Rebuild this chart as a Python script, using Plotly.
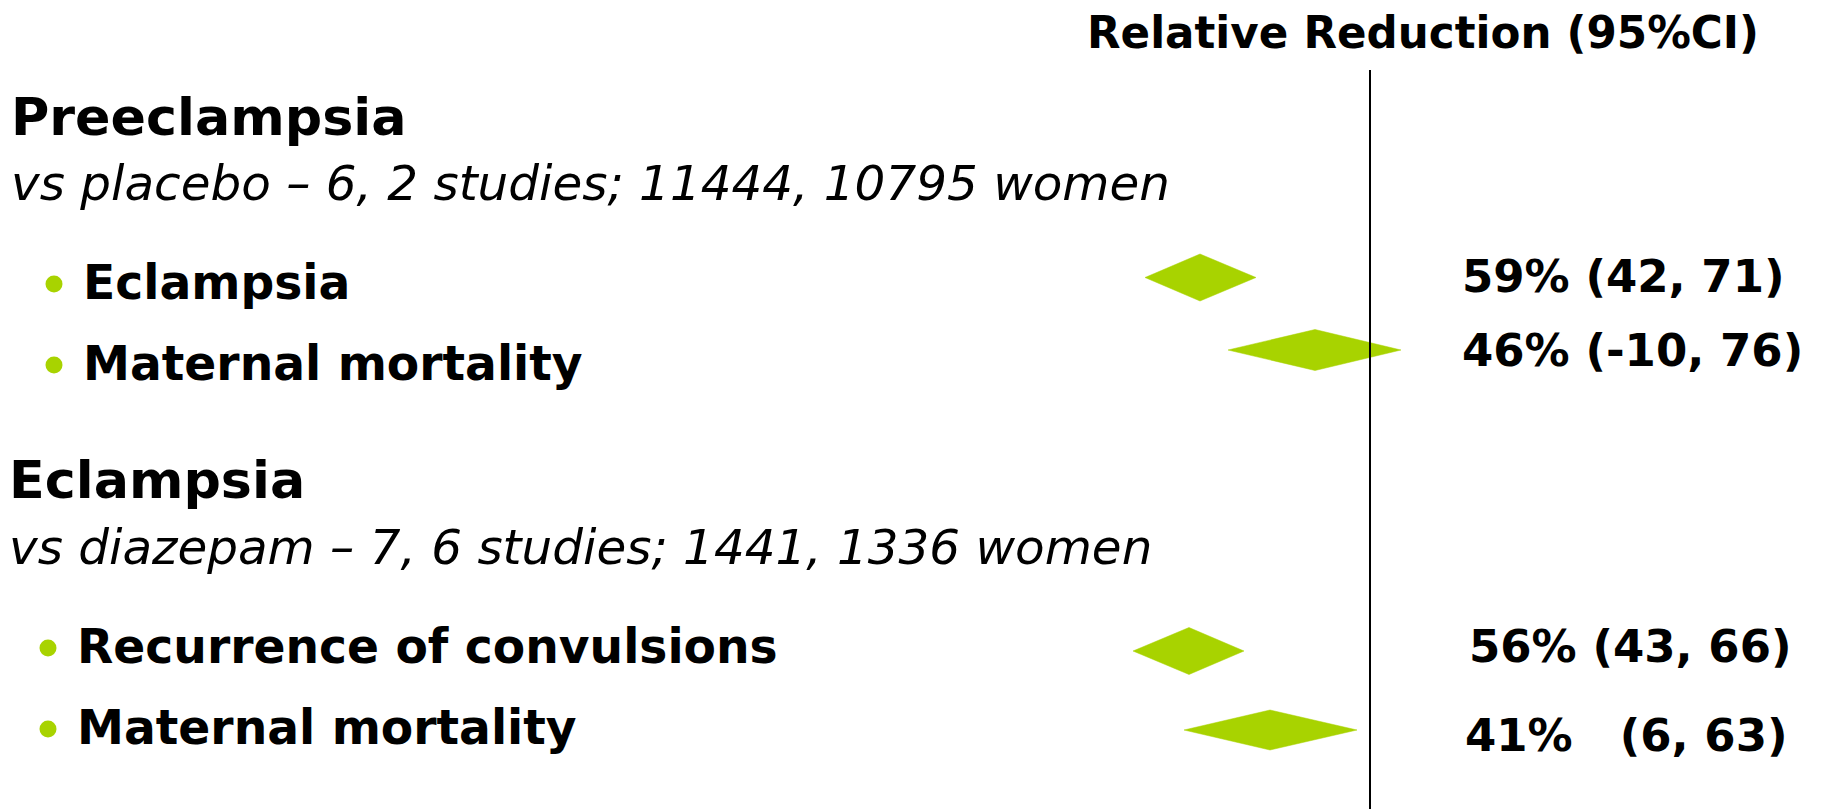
import plotly.graph_objects as go

# ---------------- data ----------------
outcomes = ["Eclampsia", "Maternal mortality", "Recurrence of convulsions", "Maternal mortality"]
reduction_pct = [59, 46, 56, 41]
ci_low = [42, -10, 43, 6]
ci_high = [71, 76, 66, 63]
# diamond vertices read off the schematic forest scale (0 = line of no effect)
diamond_left = [-22.5, -14.2, -23.7, -18.6]
diamond_mid = [-17.0, -5.5, -18.1, -10.0]
diamond_right = [-11.4, 3.1, -12.6, -1.3]

groups = ["Preeclampsia", "Eclampsia"]
group_subtitles = ["vs placebo \u2013 6, 2 studies; 11444, 10795 women",
                   "vs diazepam \u2013 7, 6 studies; 1441, 1336 women"]
group_of_outcome = [0, 0, 1, 1]
header = "Relative Reduction (95%CI)"

# ---------------- layout constants ----------------
W, H = 1824, 809
OFF = 8                      # page body margin of the rendered html
LINE_PX = 1370 - OFF         # line of no effect, figure pixels
GREEN = "#A8D300"
FONT = "DejaVu Sans"


def ax(px):
    """screen pixel -> x axis units"""
    return (px - OFF - LINE_PX) / 10.0


def ay(py):
    """screen pixel -> y axis units"""
    return (py - OFF) / 10.0


row_y = [ay(277.5), ay(350), ay(651), ay(730)]
half_h = [2.35, 2.05, 2.35, 2.0]

fig = go.Figure()

for i in range(len(outcomes)):
    xs = [diamond_left[i], diamond_mid[i], diamond_right[i], diamond_mid[i], diamond_left[i]]
    ys = [row_y[i], row_y[i] - half_h[i], row_y[i], row_y[i] + half_h[i], row_y[i]]
    fig.add_trace(go.Scatter(x=xs, y=ys, mode="lines", fill="toself",
                             fillcolor=GREEN, line=dict(color=GREEN, width=0.5),
                             hoverinfo="skip", showlegend=False))

fig.add_shape(type="line", xref="x", yref="y", x0=0, x1=0, y0=ay(70), y1=H / 10.0,
              line=dict(color="black", width=2))

ann = []


def add_text(text, px, py, size, weight="bold", style="normal", anchor="left", color="black"):
    ann.append(dict(text=text, x=ax(px), y=ay(py), xref="x", yref="y",
                    xanchor=anchor, yanchor="middle", showarrow=False, borderpad=0,
                    font=dict(family=FONT, size=size, color=color, weight=weight, style=style)))


add_text(header, 1086, 33, 43.6)

group_title_y = [116, 479]
group_sub_y = [183, 547]
group_x = [10, 8]
for g in range(len(groups)):
    add_text(groups[g], group_x[g], group_title_y[g], 52.3)
    add_text(group_subtitles[g], group_x[g], group_sub_y[g], 48.4, weight="normal", style="italic")

label_y = [282, 363, 646, 727]
bullet_y = [284, 365, 648, 729]
bullet_x = [54, 48]
text_x = [82, 76]
for i, name in enumerate(outcomes):
    g = group_of_outcome[i]
    add_text(name, text_x[g], label_y[i], 47.2)

fig.add_trace(go.Scatter(
    x=[ax(bullet_x[group_of_outcome[i]]) for i in range(len(outcomes))],
    y=[ay(v) for v in bullet_y], mode="markers",
    marker=dict(color=GREEN, size=17, line=dict(width=0)),
    hoverinfo="skip", showlegend=False))

value_y = [276, 350, 646, 735]
value_x = [1461, 1461, 1468, 1464]
for i in range(len(outcomes)):
    gap = "\u00a0\u00a0 " if i == 3 else " "
    add_text(f"{reduction_pct[i]}%{gap}({ci_low[i]}, {ci_high[i]})", value_x[i], value_y[i], 45)

fig.update_layout(
    width=W, height=H, margin=dict(l=0, r=0, t=0, b=0),
    paper_bgcolor="white", plot_bgcolor="white",
    xaxis=dict(range=[ax(OFF), ax(W + OFF)], visible=False, fixedrange=True),
    yaxis=dict(range=[ay(H + OFF), ay(OFF)], visible=False, fixedrange=True),
    annotations=ann, showlegend=False,
)

fig.write_html("out.html")
